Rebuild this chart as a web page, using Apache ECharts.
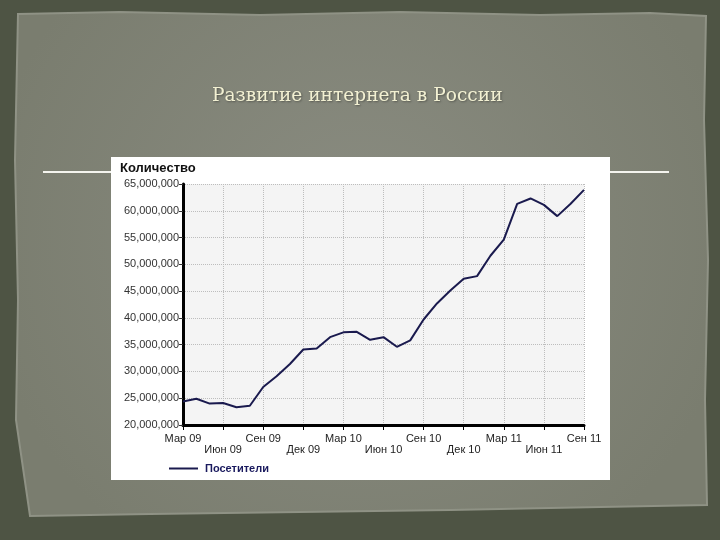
<!DOCTYPE html>
<html>
<head>
<meta charset="utf-8">
<style>html,body{margin:0;padding:0;background:#4e5444;}#c{width:720px;height:540px;}</style>
<script src="https://cdn.jsdelivr.net/npm/echarts@6/dist/echarts.min.js"></script>
</head>
<body>
<div id="c"></div>
<script>
const months = ['Мар 09','Апр 09','Май 09','Июн 09','Июл 09','Авг 09','Сен 09','Окт 09','Ноя 09','Дек 09',
  'Янв 10','Фев 10','Мар 10','Апр 10','Май 10','Июн 10','Июл 10','Авг 10','Сен 10','Окт 10','Ноя 10','Дек 10',
  'Янв 11','Фев 11','Мар 11','Апр 11','Май 11','Июн 11','Июл 11','Авг 11','Сен 11'];
const visitorsMln = [24.4,24.9,24.0,24.1,23.3,23.6,27.1,29.1,31.4,34.1,34.3,36.4,37.3,37.4,35.9,36.4,34.6,35.8,
  39.7,42.7,45.1,47.3,47.8,51.6,54.6,61.3,62.3,61.1,59.0,61.3,63.9];
const seriesName = 'Посетители';
const yAxisTitle = 'Количество';
const slideTitle = 'Развитие интернета в России';

const chart = echarts.init(document.getElementById('c'), null, {renderer: 'canvas'});
const frame = [[18,14],[120,12],[260,15],[400,12],[540,15],[650,13],[706,16],[704,120],[708,260],[705,400],[707,505],
  [600,507],[450,510],[300,512],[150,514],[30,516],[16,420],[18,300],[15,160]];
chart.setOption({
  animation: false,
  graphic: [
    {type: 'rect', z: -20, shape: {x: 0, y: 0, width: 720, height: 540}, style: {fill: '#4e5444'}},
    {type: 'polygon', z: -19, shape: {points: frame}, style: {
      fill: {type: 'radial', x: 0.5, y: 0.45, r: 0.75, colorStops: [{offset: 0, color: '#8a8c81'}, {offset: 1, color: '#7a7d6f'}]},
      stroke: '#8f9285', lineWidth: 2}},
    {type: 'line', z: -18, shape: {x1: 43, y1: 172, x2: 111, y2: 172}, style: {stroke: '#f4f4ee', lineWidth: 2}},
    {type: 'line', z: -18, shape: {x1: 609, y1: 172, x2: 669, y2: 172}, style: {stroke: '#f4f4ee', lineWidth: 2}},
    {type: 'rect', z: -17, shape: {x: 111, y: 157, width: 499, height: 323}, style: {fill: '#ffffff'}}
  ],
  title: [
    {text: slideTitle, left: 207, top: 82, textStyle: {fontFamily: 'DejaVu Serif', fontSize: 18.6, fontWeight: 'normal', color: '#f2f0d2',
      textShadowColor: 'rgba(0,0,0,0.35)', textShadowBlur: 2, textShadowOffsetX: 1, textShadowOffsetY: 1}},
    {text: yAxisTitle, left: 115, top: 157, textStyle: {fontFamily: 'Liberation Sans', fontSize: 13, fontWeight: 'bold', color: '#111'}}
  ],
  legend: {
    left: 164, top: 458, icon: 'rect', itemWidth: 29, itemHeight: 2, itemGap: 10,
    data: [seriesName],
    textStyle: {fontFamily: 'Liberation Sans', fontSize: 11, fontWeight: 'bold', color: '#1a1a5e', padding: [0,0,0,2]}
  },
  grid: {left: 183, right: 136, top: 184, bottom: 115, show: true, backgroundColor: '#f4f4f4', borderWidth: 0},
  xAxis: {
    type: 'category', data: months, boundaryGap: false,
    axisLine: {lineStyle: {color: '#000', width: 3}},
    axisTick: {interval: 2, length: 5, lineStyle: {color: '#000', width: 1}},
    axisLabel: {interval: 2, margin: 8, fontFamily: 'Liberation Sans', fontSize: 11, color: '#222', lineHeight: 11,
      formatter: function (v, i) { return (Math.round(i / 3) % 2 === 1) ? '\n' + v : v; }},
    splitLine: {show: true, interval: 2, lineStyle: {color: '#bdbdbd', type: 'dotted', width: 1}}
  },
  yAxis: {
    type: 'value', min: 20000000, max: 65000000, interval: 5000000,
    axisLine: {show: true, lineStyle: {color: '#000', width: 3}},
    axisTick: {show: true, length: 4, lineStyle: {color: '#333'}},
    axisLabel: {margin: 4, fontFamily: 'Liberation Sans', fontSize: 11, color: '#333',
      formatter: function (v) { return v.toLocaleString('en-US'); }},
    splitLine: {show: true, lineStyle: {color: '#bdbdbd', type: 'dotted', width: 1}}
  },
  series: [{
    name: seriesName, type: 'line', showSymbol: false, symbol: 'none',
    data: visitorsMln.map(v => v * 1000000),
    lineStyle: {color: '#1a1a4e', width: 2}, itemStyle: {color: '#1a1a4e'}
  }]
});
</script>
</body>
</html>
